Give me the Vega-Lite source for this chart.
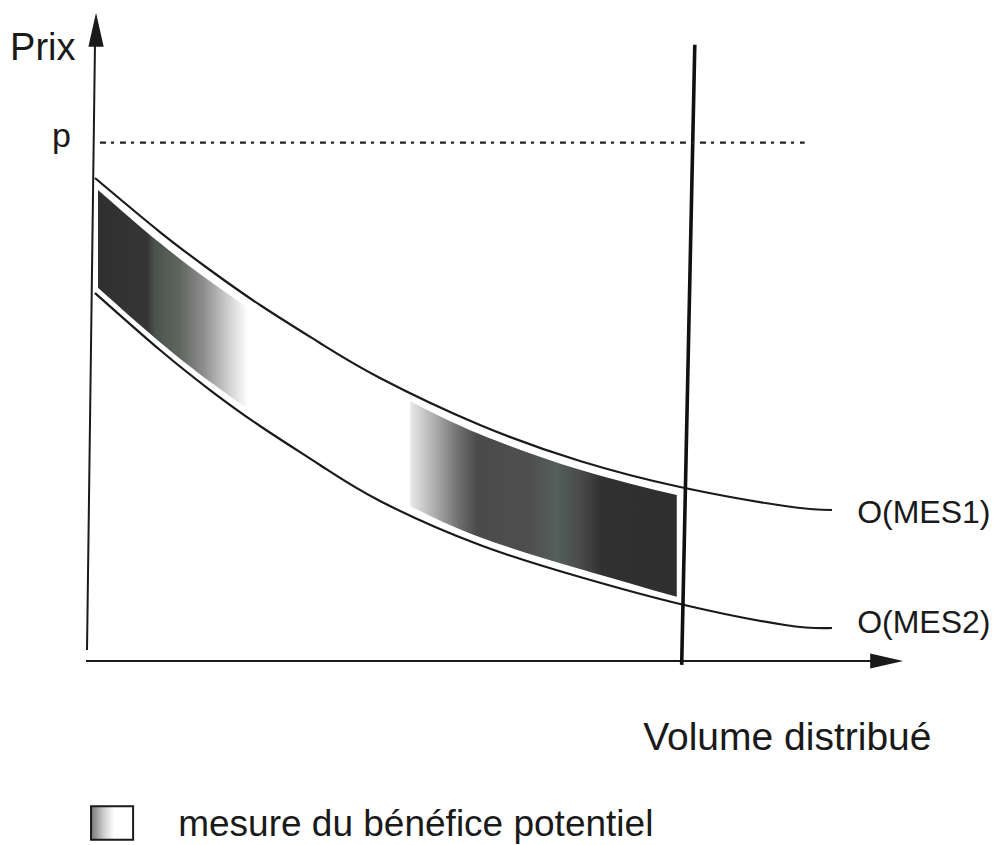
{
  "$schema": "https://vega.github.io/schema/vega-lite/v6.json",
  "width": 820,
  "height": 648,
  "autosize": {"type": "none"},
  "padding": {"left": 88, "top": 13, "right": 91, "bottom": 184},
  "background": "white",
  "config": {"view": {"stroke": null}},
  "encoding": {
    "x": {"field": "x", "type": "quantitative", "scale": {"domain": [0, 100], "nice": false, "zero": false}, "axis": null},
    "y": {"field": "y", "type": "quantitative", "scale": {"domain": [0, 100], "nice": false, "zero": false}, "axis": null}
  },
  "layer": [
    {
      "data": {"values": [
        {"x": 1.22, "y": 72.7, "y2": 57.6},
        {"x": 8.78, "y": 64.5, "y2": 49.2},
        {"x": 14.88, "y": 58.6, "y2": 43.1},
        {"x": 19.5, "y": 54.5, "y2": 38.9}
      ]},
      "mark": {"type": "area", "interpolate": "natural", "color": {"gradient": "linear", "x1": 0, "y1": 0, "x2": 1, "y2": 0, "stops": [
        {"offset": 0, "color": "#2f2f2f"},
        {"offset": 0.33, "color": "#353535"},
        {"offset": 0.38, "color": "#4a544c"},
        {"offset": 0.55, "color": "#5f665f"},
        {"offset": 0.7, "color": "#8c8c8c"},
        {"offset": 0.85, "color": "#c8c8c8"},
        {"offset": 1, "color": "#ffffff"}
      ]}},
      "encoding": {"y2": {"field": "y2"}}
    },
    {
      "data": {"values": [
        {"x": 39.3, "y": 40.1, "y2": 23.9},
        {"x": 47.8, "y": 35.0, "y2": 19.1},
        {"x": 60.0, "y": 29.5, "y2": 14.2},
        {"x": 71.8, "y": 25.6, "y2": 9.9}
      ]},
      "mark": {"type": "area", "interpolate": "natural", "color": {"gradient": "linear", "x1": 0, "y1": 0, "x2": 1, "y2": 0, "stops": [
        {"offset": 0, "color": "#e8e8e8"},
        {"offset": 0.08, "color": "#b5b5b5"},
        {"offset": 0.18, "color": "#707070"},
        {"offset": 0.25, "color": "#4a4a4a"},
        {"offset": 0.45, "color": "#4f4f4f"},
        {"offset": 0.55, "color": "#53605a"},
        {"offset": 0.65, "color": "#474747"},
        {"offset": 0.72, "color": "#303030"},
        {"offset": 1, "color": "#2f2f2f"}
      ]}},
      "encoding": {"y2": {"field": "y2"}}
    },
    {
      "data": {"values": [
        {"curve": "MES1", "x": 0.85, "y": 74.54},
        {"curve": "MES1", "x": 8.78, "y": 66.2},
        {"curve": "MES1", "x": 14.88, "y": 60.34},
        {"curve": "MES1", "x": 20.98, "y": 54.94},
        {"curve": "MES1", "x": 28.29, "y": 49.07},
        {"curve": "MES1", "x": 35.61, "y": 43.67},
        {"curve": "MES1", "x": 47.8, "y": 36.42},
        {"curve": "MES1", "x": 60.0, "y": 30.86},
        {"curve": "MES1", "x": 72.2, "y": 26.85},
        {"curve": "MES1", "x": 85.0, "y": 23.92},
        {"curve": "MES1", "x": 90.73, "y": 23.3},
        {"curve": "MES2", "x": 0.85, "y": 56.79},
        {"curve": "MES2", "x": 8.78, "y": 47.99},
        {"curve": "MES2", "x": 14.88, "y": 41.82},
        {"curve": "MES2", "x": 20.98, "y": 36.27},
        {"curve": "MES2", "x": 28.29, "y": 30.25},
        {"curve": "MES2", "x": 35.61, "y": 24.69},
        {"curve": "MES2", "x": 47.8, "y": 17.9},
        {"curve": "MES2", "x": 60.0, "y": 12.96},
        {"curve": "MES2", "x": 72.2, "y": 8.8},
        {"curve": "MES2", "x": 85.0, "y": 5.56},
        {"curve": "MES2", "x": 90.73, "y": 5.09}
      ]},
      "mark": {"type": "line", "interpolate": "natural", "color": "#1a1a1a", "strokeWidth": 2.2},
      "encoding": {"detail": {"field": "curve"}}
    },
    {
      "data": {"values": [
        {"line": "axeY", "x": 0.85, "y": 95.1},
        {"line": "axeY", "x": -0.12, "y": 1.7},
        {"line": "axeX", "x": -0.24, "y": 0},
        {"line": "axeX", "x": 96.6, "y": 0}
      ]},
      "mark": {"type": "line", "color": "#1a1a1a", "strokeWidth": 2},
      "encoding": {"detail": {"field": "line"}}
    },
    {
      "data": {"values": [
        {"x": 74.0, "y": 95.1},
        {"x": 72.4, "y": -0.6}
      ]},
      "mark": {"type": "line", "color": "#111111", "strokeWidth": 3.6}
    },
    {
      "data": {"values": [
        {"x": 1.46, "y": 80},
        {"x": 87.4, "y": 80}
      ]},
      "mark": {"type": "line", "color": "#222222", "strokeWidth": 2.4, "strokeDash": [6, 5, 3, 6]}
    },
    {
      "data": {"values": [{"x": 0.98, "y": 97.4}]},
      "mark": {"type": "point", "shape": "M0,-1L0.45,1L-0.45,1Z", "size": 1156, "filled": true, "color": "#1a1a1a", "opacity": 1}
    },
    {
      "data": {"values": [{"x": 97.4, "y": 0}]},
      "mark": {"type": "point", "shape": "M1,0L-1,-0.45L-1,0.45Z", "size": 1089, "filled": true, "color": "#1a1a1a", "opacity": 1}
    },
    {
      "data": {"values": [{"x": 0.37, "x2": 5.5, "y": -22.4, "y2": -27.6}]},
      "mark": {"type": "rect", "stroke": "#1a1a1a", "strokeWidth": 2, "color": {"gradient": "linear", "x1": 0, "y1": 0, "x2": 1, "y2": 0, "stops": [
        {"offset": 0, "color": "#777777"},
        {"offset": 0.3, "color": "#cccccc"},
        {"offset": 0.55, "color": "#ffffff"},
        {"offset": 1, "color": "#ffffff"}
      ]}},
      "encoding": {"x2": {"field": "x2"}, "y2": {"field": "y2"}}
    },
    {
      "data": {"values": [{"label": "Prix", "x": -9.5, "y": 92.7}]},
      "mark": {"type": "text", "align": "left", "baseline": "alphabetic", "font": "Liberation Sans", "fontSize": 38, "color": "#1a1a1a"},
      "encoding": {"text": {"field": "label"}}
    },
    {
      "data": {"values": [{"label": "p", "x": -4.4, "y": 79.3}]},
      "mark": {"type": "text", "align": "left", "baseline": "alphabetic", "font": "Liberation Sans", "fontSize": 34, "color": "#1a1a1a"},
      "encoding": {"text": {"field": "label"}}
    },
    {
      "data": {"values": [
        {"label": "O(MES1)", "x": 93.8, "y": 21.3},
        {"label": "O(MES2)", "x": 93.8, "y": 4.3}
      ]},
      "mark": {"type": "text", "align": "left", "baseline": "alphabetic", "font": "Liberation Sans", "fontSize": 32, "color": "#1a1a1a"},
      "encoding": {"text": {"field": "label"}}
    },
    {
      "data": {"values": [{"label": "Volume distribué", "x": 67.7, "y": -13.7}]},
      "mark": {"type": "text", "align": "left", "baseline": "alphabetic", "font": "Liberation Sans", "fontSize": 39, "color": "#1a1a1a"},
      "encoding": {"text": {"field": "label"}}
    },
    {
      "data": {"values": [{"label": "mesure du bénéfice potentiel", "x": 11.0, "y": -27.0}]},
      "mark": {"type": "text", "align": "left", "baseline": "alphabetic", "font": "Liberation Sans", "fontSize": 37, "color": "#1a1a1a"},
      "encoding": {"text": {"field": "label"}}
    }
  ]
}
